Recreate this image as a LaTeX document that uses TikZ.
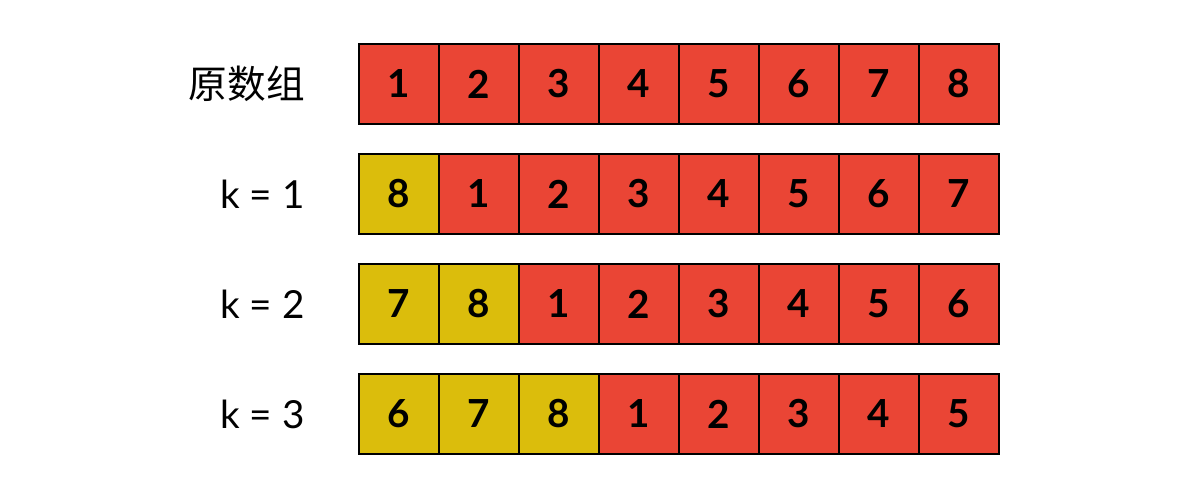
\documentclass[tikz,border=0pt]{standalone}
\usepackage{fontspec}
\setmainfont{Lato}
\newfontfamily\cjk{Noto Sans CJK SC}
\usetikzlibrary{positioning}
\definecolor{c1}{HTML}{EA4535}
\definecolor{c2}{HTML}{DBBD0C}

\begin{document}
\begin{tikzpicture}[x=0.02cm, y=-0.02cm,
    cell/.style={draw, line width=1.15pt, minimum size=1.6cm, inner sep=0pt,
        font=\fontsize{22}{26}\selectfont\bfseries},
    rowname/.style={inner sep=0pt, font=\fontsize{22}{26}\selectfont}]
    \useasboundingbox (0,0) rectangle (1200,500);
    \foreach \k in {0,...,3} {
        \foreach \i in {0,...,7} {
            \pgfmathtruncatemacro{\v}{mod(\i-\k+8,8)+1}
            \ifnum\i<\k \def\col{c2}\else\def\col{c1}\fi
            \node[cell, fill=\col] (cell-\k-\i) at (399+80*\i, 84+110*\k) {\v};
        }
    }
    \node[rowname, left=1.06cm of cell-0-0] (name-0) {\cjk 原数组};
    \foreach \k in {1,...,3} {
        \node[rowname, left=1.06cm of cell-\k-0] (name-\k) {k = \k};
    }
\end{tikzpicture}
\end{document}
